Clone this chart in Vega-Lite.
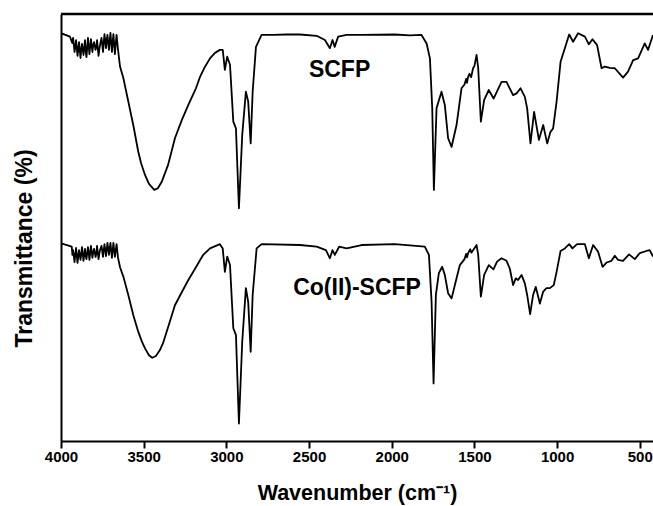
{
  "$schema": "https://vega.github.io/schema/vega-lite/v6.json",
  "width": 592,
  "height": 427,
  "autosize": "none",
  "padding": {"left": 61, "top": 14, "right": 0, "bottom": 65},
  "background": "white",
  "config": {"view": {"stroke": null}},
  "datasets": {
    "spectra": [
      {"s":"SCFP","w":4000,"t":95.5},{"s":"SCFP","w":3946,"t":94.7},{"s":"SCFP","w":3932,"t":93.2},{"s":"SCFP","w":3927,"t":94.4},{"s":"SCFP","w":3918,"t":91.1},{"s":"SCFP","w":3913,"t":92.6},{"s":"SCFP","w":3909,"t":93.9},{"s":"SCFP","w":3900,"t":90.2},{"s":"SCFP","w":3895,"t":92.0},{"s":"SCFP","w":3891,"t":93.4},{"s":"SCFP","w":3882,"t":89.7},{"s":"SCFP","w":3877,"t":91.9},{"s":"SCFP","w":3873,"t":93.0},{"s":"SCFP","w":3864,"t":90.4},{"s":"SCFP","w":3855,"t":93.9},{"s":"SCFP","w":3850,"t":91.0},{"s":"SCFP","w":3846,"t":89.9},{"s":"SCFP","w":3837,"t":94.4},{"s":"SCFP","w":3832,"t":92.2},{"s":"SCFP","w":3828,"t":90.6},{"s":"SCFP","w":3819,"t":94.1},{"s":"SCFP","w":3810,"t":91.1},{"s":"SCFP","w":3805,"t":92.8},{"s":"SCFP","w":3800,"t":93.4},{"s":"SCFP","w":3791,"t":91.6},{"s":"SCFP","w":3786,"t":92.4},{"s":"SCFP","w":3782,"t":93.9},{"s":"SCFP","w":3773,"t":90.2},{"s":"SCFP","w":3768,"t":91.8},{"s":"SCFP","w":3764,"t":92.7},{"s":"SCFP","w":3755,"t":94.4},{"s":"SCFP","w":3746,"t":91.1},{"s":"SCFP","w":3741,"t":93.5},{"s":"SCFP","w":3737,"t":95.3},{"s":"SCFP","w":3728,"t":92.0},{"s":"SCFP","w":3723,"t":94.0},{"s":"SCFP","w":3719,"t":95.1},{"s":"SCFP","w":3710,"t":91.6},{"s":"SCFP","w":3705,"t":93.8},{"s":"SCFP","w":3701,"t":95.6},{"s":"SCFP","w":3692,"t":91.1},{"s":"SCFP","w":3687,"t":93.6},{"s":"SCFP","w":3683,"t":95.3},{"s":"SCFP","w":3674,"t":90.6},{"s":"SCFP","w":3669,"t":93.0},{"s":"SCFP","w":3664,"t":95.1},{"s":"SCFP","w":3655,"t":91.6},{"s":"SCFP","w":3643,"t":87.7},{"s":"SCFP","w":3623,"t":85.0},{"s":"SCFP","w":3593,"t":79.5},{"s":"SCFP","w":3563,"t":74.0},{"s":"SCFP","w":3533,"t":67.8},{"s":"SCFP","w":3516,"t":65.1},{"s":"SCFP","w":3492,"t":62.3},{"s":"SCFP","w":3468,"t":60.2},{"s":"SCFP","w":3436,"t":58.8},{"s":"SCFP","w":3414,"t":59.2},{"s":"SCFP","w":3391,"t":60.7},{"s":"SCFP","w":3353,"t":64.6},{"s":"SCFP","w":3311,"t":70.9},{"s":"SCFP","w":3269,"t":75.2},{"s":"SCFP","w":3230,"t":78.7},{"s":"SCFP","w":3184,"t":82.6},{"s":"SCFP","w":3160,"t":85.2},{"s":"SCFP","w":3130,"t":87.6},{"s":"SCFP","w":3099,"t":89.6},{"s":"SCFP","w":3069,"t":90.9},{"s":"SCFP","w":3039,"t":91.6},{"s":"SCFP","w":3022,"t":91.6},{"s":"SCFP","w":3009,"t":86.9},{"s":"SCFP","w":2995,"t":90.0},{"s":"SCFP","w":2978,"t":88.1},{"s":"SCFP","w":2958,"t":74.8},{"s":"SCFP","w":2942,"t":73.2},{"s":"SCFP","w":2924,"t":54.5},{"s":"SCFP","w":2904,"t":71.7},{"s":"SCFP","w":2882,"t":81.8},{"s":"SCFP","w":2868,"t":79.5},{"s":"SCFP","w":2853,"t":69.7},{"s":"SCFP","w":2841,"t":81.8},{"s":"SCFP","w":2821,"t":92.3},{"s":"SCFP","w":2787,"t":95.1},{"s":"SCFP","w":2717,"t":95.1},{"s":"SCFP","w":2636,"t":95.2},{"s":"SCFP","w":2555,"t":95.2},{"s":"SCFP","w":2454,"t":94.9},{"s":"SCFP","w":2404,"t":93.9},{"s":"SCFP","w":2374,"t":92.0},{"s":"SCFP","w":2358,"t":93.9},{"s":"SCFP","w":2345,"t":92.3},{"s":"SCFP","w":2324,"t":94.7},{"s":"SCFP","w":2273,"t":95.1},{"s":"SCFP","w":2182,"t":95.1},{"s":"SCFP","w":1981,"t":95.2},{"s":"SCFP","w":1890,"t":95.0},{"s":"SCFP","w":1820,"t":95.1},{"s":"SCFP","w":1789,"t":93.1},{"s":"SCFP","w":1769,"t":89.6},{"s":"SCFP","w":1755,"t":77.9},{"s":"SCFP","w":1745,"t":58.8},{"s":"SCFP","w":1729,"t":77.9},{"s":"SCFP","w":1699,"t":81.8},{"s":"SCFP","w":1679,"t":78.7},{"s":"SCFP","w":1659,"t":70.9},{"s":"SCFP","w":1638,"t":68.9},{"s":"SCFP","w":1608,"t":74.0},{"s":"SCFP","w":1578,"t":82.6},{"s":"SCFP","w":1560,"t":83.5},{"s":"SCFP","w":1550,"t":84.8},{"s":"SCFP","w":1545,"t":83.9},{"s":"SCFP","w":1538,"t":85.3},{"s":"SCFP","w":1530,"t":86.0},{"s":"SCFP","w":1520,"t":85.2},{"s":"SCFP","w":1508,"t":87.3},{"s":"SCFP","w":1500,"t":87.8},{"s":"SCFP","w":1487,"t":90.4},{"s":"SCFP","w":1477,"t":87.3},{"s":"SCFP","w":1461,"t":74.8},{"s":"SCFP","w":1441,"t":79.9},{"s":"SCFP","w":1413,"t":82.2},{"s":"SCFP","w":1384,"t":80.2},{"s":"SCFP","w":1336,"t":84.1},{"s":"SCFP","w":1306,"t":84.1},{"s":"SCFP","w":1266,"t":81.0},{"s":"SCFP","w":1245,"t":81.4},{"s":"SCFP","w":1221,"t":82.6},{"s":"SCFP","w":1195,"t":80.6},{"s":"SCFP","w":1181,"t":77.9},{"s":"SCFP","w":1161,"t":69.7},{"s":"SCFP","w":1139,"t":77.1},{"s":"SCFP","w":1110,"t":70.5},{"s":"SCFP","w":1084,"t":74.0},{"s":"SCFP","w":1060,"t":69.7},{"s":"SCFP","w":1040,"t":72.4},{"s":"SCFP","w":1024,"t":73.2},{"s":"SCFP","w":1003,"t":79.5},{"s":"SCFP","w":979,"t":88.8},{"s":"SCFP","w":953,"t":92.0},{"s":"SCFP","w":927,"t":95.2},{"s":"SCFP","w":903,"t":93.5},{"s":"SCFP","w":873,"t":95.5},{"s":"SCFP","w":832,"t":94.7},{"s":"SCFP","w":808,"t":92.9},{"s":"SCFP","w":786,"t":94.1},{"s":"SCFP","w":758,"t":92.7},{"s":"SCFP","w":731,"t":87.3},{"s":"SCFP","w":712,"t":87.7},{"s":"SCFP","w":681,"t":87.4},{"s":"SCFP","w":651,"t":87.3},{"s":"SCFP","w":601,"t":85.1},{"s":"SCFP","w":571,"t":86.5},{"s":"SCFP","w":540,"t":89.2},{"s":"SCFP","w":510,"t":89.6},{"s":"SCFP","w":470,"t":93.1},{"s":"SCFP","w":450,"t":91.6},{"s":"SCFP","w":420,"t":95.1},
      {"s":"Co","w":4000,"t":46.3},{"s":"Co","w":3935,"t":45.5},{"s":"Co","w":3931,"t":43.6},{"s":"Co","w":3927,"t":44.7},{"s":"Co","w":3918,"t":41.9},{"s":"Co","w":3913,"t":43.9},{"s":"Co","w":3909,"t":45.2},{"s":"Co","w":3900,"t":41.7},{"s":"Co","w":3895,"t":43.5},{"s":"Co","w":3891,"t":44.7},{"s":"Co","w":3882,"t":42.4},{"s":"Co","w":3877,"t":44.0},{"s":"Co","w":3873,"t":45.4},{"s":"Co","w":3864,"t":42.2},{"s":"Co","w":3855,"t":45.0},{"s":"Co","w":3850,"t":43.2},{"s":"Co","w":3846,"t":42.6},{"s":"Co","w":3837,"t":45.4},{"s":"Co","w":3832,"t":43.8},{"s":"Co","w":3828,"t":42.4},{"s":"Co","w":3819,"t":45.7},{"s":"Co","w":3810,"t":42.9},{"s":"Co","w":3805,"t":44.3},{"s":"Co","w":3800,"t":45.0},{"s":"Co","w":3791,"t":43.1},{"s":"Co","w":3786,"t":44.0},{"s":"Co","w":3782,"t":45.7},{"s":"Co","w":3773,"t":42.6},{"s":"Co","w":3768,"t":43.9},{"s":"Co","w":3764,"t":44.7},{"s":"Co","w":3755,"t":45.7},{"s":"Co","w":3746,"t":43.1},{"s":"Co","w":3741,"t":44.9},{"s":"Co","w":3737,"t":46.1},{"s":"Co","w":3728,"t":43.3},{"s":"Co","w":3723,"t":45.0},{"s":"Co","w":3719,"t":46.4},{"s":"Co","w":3710,"t":43.6},{"s":"Co","w":3705,"t":45.2},{"s":"Co","w":3701,"t":46.4},{"s":"Co","w":3692,"t":42.9},{"s":"Co","w":3687,"t":44.8},{"s":"Co","w":3683,"t":46.4},{"s":"Co","w":3674,"t":43.1},{"s":"Co","w":3669,"t":44.6},{"s":"Co","w":3664,"t":46.1},{"s":"Co","w":3655,"t":42.9},{"s":"Co","w":3643,"t":40.7},{"s":"Co","w":3623,"t":38.5},{"s":"Co","w":3593,"t":34.2},{"s":"Co","w":3563,"t":29.5},{"s":"Co","w":3533,"t":25.6},{"s":"Co","w":3510,"t":23.2},{"s":"Co","w":3492,"t":21.7},{"s":"Co","w":3468,"t":20.1},{"s":"Co","w":3448,"t":19.5},{"s":"Co","w":3426,"t":19.9},{"s":"Co","w":3402,"t":21.3},{"s":"Co","w":3383,"t":22.9},{"s":"Co","w":3361,"t":25.6},{"s":"Co","w":3335,"t":28.8},{"s":"Co","w":3311,"t":31.8},{"s":"Co","w":3269,"t":34.9},{"s":"Co","w":3230,"t":37.7},{"s":"Co","w":3184,"t":40.7},{"s":"Co","w":3140,"t":43.6},{"s":"Co","w":3099,"t":45.1},{"s":"Co","w":3039,"t":46.1},{"s":"Co","w":3022,"t":45.1},{"s":"Co","w":3009,"t":39.6},{"s":"Co","w":2995,"t":43.2},{"s":"Co","w":2978,"t":41.2},{"s":"Co","w":2958,"t":26.4},{"s":"Co","w":2942,"t":24.8},{"s":"Co","w":2924,"t":4.1},{"s":"Co","w":2904,"t":23.3},{"s":"Co","w":2882,"t":35.8},{"s":"Co","w":2868,"t":32.6},{"s":"Co","w":2853,"t":20.9},{"s":"Co","w":2841,"t":34.2},{"s":"Co","w":2817,"t":45.1},{"s":"Co","w":2787,"t":46.1},{"s":"Co","w":2555,"t":45.9},{"s":"Co","w":2454,"t":45.5},{"s":"Co","w":2398,"t":44.7},{"s":"Co","w":2374,"t":42.8},{"s":"Co","w":2358,"t":44.7},{"s":"Co","w":2344,"t":43.6},{"s":"Co","w":2318,"t":45.5},{"s":"Co","w":2273,"t":45.1},{"s":"Co","w":2182,"t":45.9},{"s":"Co","w":1981,"t":46.1},{"s":"Co","w":1800,"t":45.5},{"s":"Co","w":1775,"t":43.6},{"s":"Co","w":1759,"t":32.6},{"s":"Co","w":1747,"t":13.5},{"s":"Co","w":1733,"t":34.2},{"s":"Co","w":1715,"t":39.3},{"s":"Co","w":1695,"t":40.8},{"s":"Co","w":1679,"t":38.9},{"s":"Co","w":1659,"t":34.6},{"s":"Co","w":1638,"t":33.4},{"s":"Co","w":1608,"t":38.1},{"s":"Co","w":1588,"t":41.2},{"s":"Co","w":1560,"t":42.6},{"s":"Co","w":1550,"t":43.8},{"s":"Co","w":1545,"t":43.0},{"s":"Co","w":1538,"t":44.0},{"s":"Co","w":1525,"t":44.9},{"s":"Co","w":1518,"t":44.1},{"s":"Co","w":1508,"t":44.7},{"s":"Co","w":1487,"t":45.9},{"s":"Co","w":1477,"t":43.6},{"s":"Co","w":1461,"t":33.8},{"s":"Co","w":1441,"t":38.9},{"s":"Co","w":1413,"t":41.2},{"s":"Co","w":1385,"t":40.2},{"s":"Co","w":1363,"t":42.0},{"s":"Co","w":1336,"t":42.8},{"s":"Co","w":1306,"t":42.2},{"s":"Co","w":1286,"t":40.4},{"s":"Co","w":1266,"t":36.5},{"s":"Co","w":1250,"t":38.1},{"s":"Co","w":1236,"t":37.7},{"s":"Co","w":1215,"t":38.9},{"s":"Co","w":1195,"t":36.9},{"s":"Co","w":1181,"t":34.2},{"s":"Co","w":1163,"t":29.7},{"s":"Co","w":1145,"t":34.2},{"s":"Co","w":1129,"t":36.1},{"s":"Co","w":1104,"t":32.2},{"s":"Co","w":1084,"t":35.0},{"s":"Co","w":1064,"t":35.8},{"s":"Co","w":1044,"t":35.8},{"s":"Co","w":1020,"t":36.5},{"s":"Co","w":1003,"t":39.6},{"s":"Co","w":979,"t":44.5},{"s":"Co","w":953,"t":45.1},{"s":"Co","w":927,"t":46.1},{"s":"Co","w":907,"t":45.1},{"s":"Co","w":879,"t":46.1},{"s":"Co","w":832,"t":46.1},{"s":"Co","w":808,"t":42.8},{"s":"Co","w":782,"t":45.9},{"s":"Co","w":752,"t":44.3},{"s":"Co","w":725,"t":40.8},{"s":"Co","w":701,"t":41.8},{"s":"Co","w":671,"t":42.2},{"s":"Co","w":651,"t":43.4},{"s":"Co","w":631,"t":42.4},{"s":"Co","w":601,"t":42.2},{"s":"Co","w":565,"t":43.7},{"s":"Co","w":530,"t":42.6},{"s":"Co","w":500,"t":44.0},{"s":"Co","w":460,"t":44.5},{"s":"Co","w":440,"t":44.7},{"s":"Co","w":420,"t":43.2}
    ],
    "labels": [
      {"label":"SCFP","w":2501,"t":85.2},
      {"label":"Co(II)-SCFP","w":2596,"t":34.3}
    ]
  },
  "layer": [
    {
      "data": {"name": "spectra"},
      "mark": {"type": "line", "color": "black", "strokeWidth": 1.8, "strokeJoin": "round", "clip": true},
      "encoding": {
        "x": {
          "field": "w", "type": "quantitative",
          "scale": {"domain": [420, 4000], "reverse": true, "nice": false, "zero": false},
          "axis": {
            "values": [4000, 3500, 3000, 2500, 2000, 1500, 1000, 500],
            "format": "d",
            "grid": false,
            "domainColor": "black", "domainWidth": 2,
            "tickColor": "black", "tickWidth": 2, "tickSize": 7,
            "labelFont": "Liberation Sans", "labelFontSize": 15, "labelFontWeight": "bold", "labelColor": "black",
            "labelPadding": 1, "labelFlush": false, "labelOverlap": false,
            "title": "Wavenumber (cm⁻¹)",
            "titleFont": "Liberation Sans", "titleFontSize": 21.5, "titleFontWeight": "bold", "titleColor": "black",
            "titleY": 58, "titleBaseline": "alphabetic"
          }
        },
        "y": {
          "field": "t", "type": "quantitative",
          "scale": {"domain": [0, 100], "nice": false, "zero": false},
          "axis": {
            "ticks": false, "labels": false, "grid": false,
            "domainColor": "black", "domainWidth": 2,
            "title": "Transmittance (%)",
            "titleFont": "Liberation Sans", "titleFontSize": 23, "titleFontWeight": "bold", "titleColor": "black",
            "titleX": -30, "titleY": 234, "titleBaseline": "alphabetic", "titleAngle": -90
          }
        },
        "detail": {"field": "s"}
      }
    },
    {
      "data": {"values": [{}]},
      "mark": {"type": "rule", "color": "black", "strokeWidth": 2.5},
      "encoding": {"y": {"datum": 100}}
    },
    {
      "data": {"name": "labels"},
      "mark": {"type": "text", "align": "left", "baseline": "alphabetic", "font": "Liberation Sans", "fontSize": 23, "fontWeight": "bold", "color": "black"},
      "encoding": {
        "x": {"field": "w", "type": "quantitative"},
        "y": {"field": "t", "type": "quantitative"},
        "text": {"field": "label"}
      }
    }
  ]
}
